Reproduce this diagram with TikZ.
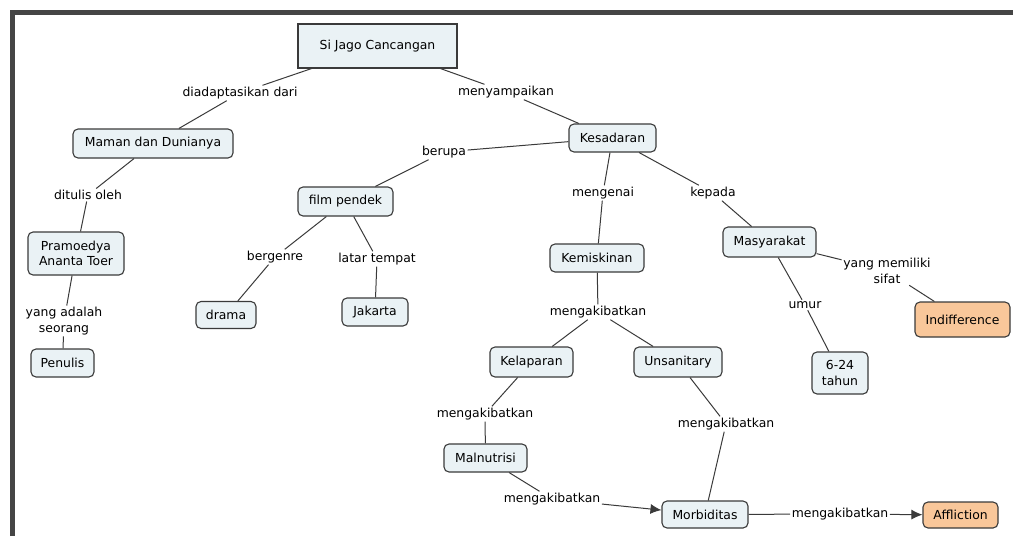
\documentclass[tikz,border=0pt]{standalone}
\usepackage{fontspec}
\setmainfont{DejaVu Sans}
\usetikzlibrary{arrows.meta}
\definecolor{nodefill}{HTML}{EAF2F5}
\definecolor{orangefill}{HTML}{F9C79A}
\definecolor{edgecol}{HTML}{3A3A3A}
\definecolor{framecol}{HTML}{454545}
\begin{document}
\begin{tikzpicture}[x=1pt,y=-1pt,
  txt/.style={font=\fontsize{12.4}{15.5}\selectfont},
  concept/.style={txt, draw=edgecol, line width=1.1pt, fill=nodefill, rounded corners=5pt, inner sep=0pt, align=center},
  hot/.style={concept, fill=orangefill},
  lab/.style={txt, inner sep=1.5pt, align=center},
  link/.style={draw=edgecol, line width=1pt},
  arr/.style={link, -{Latex[length=11pt,width=10pt]}}]
\useasboundingbox (0,0) rectangle (1013,536);
% frame
\draw[framecol, line width=5pt] (12,536) -- (12,12.5) -- (1013,12.5);
% concepts
\node[concept, rounded corners=0pt, minimum width=159pt, minimum height=44pt] (sjc) at (377.5,46) {Si Jago Cancangan};
\node[concept, minimum width=160pt, minimum height=29pt] (maman) at (153,143.5) {Maman dan Dunianya};
\node[concept, minimum width=87pt, minimum height=28pt] (kes) at (612.5,138) {Kesadaran};
\node[concept, minimum width=95pt, minimum height=29pt] (film) at (345.5,201.5) {film pendek};
\node[concept, minimum width=96pt, minimum height=43pt] (pram) at (76,253.5) {Pramoedya\\Ananta Toer};
\node[concept, minimum width=60pt, minimum height=27pt] (drama) at (226,315) {drama};
\node[concept, minimum width=66pt, minimum height=28pt] (jak) at (375,312) {Jakarta};
\node[concept, minimum width=63pt, minimum height=28pt] (pen) at (62.5,363) {Penulis};
\node[concept, minimum width=94pt, minimum height=28pt] (kem) at (597,258) {Kemiskinan};
\node[concept, minimum width=93pt, minimum height=30pt] (masy) at (769.5,242) {Masyarakat};
\node[hot, minimum width=95pt, minimum height=35pt] (indif) at (962.5,319.5) {Indifference};
\node[concept, minimum width=83pt, minimum height=30pt] (kel) at (531.5,362) {Kelaparan};
\node[concept, minimum width=88pt, minimum height=30pt] (uns) at (678,362) {Unsanitary};
\node[concept, minimum width=56pt, minimum height=42pt] (six) at (840,373) {6-24\\tahun};
\node[concept, minimum width=83pt, minimum height=28pt] (mal) at (485.5,458) {Malnutrisi};
\node[concept, minimum width=86pt, minimum height=27pt] (morb) at (705,514.5) {Morbiditas};
\node[hot, minimum width=75pt, minimum height=26pt] (affl) at (960.5,515) {Affliction};
% link labels
\node[lab] (l1) at (240,93) {diadaptasikan dari};
\node[lab] (l2) at (506,92) {menyampaikan};
\node[lab] (l3) at (444,152) {berupa};
\node[lab] (l4) at (88,195) {ditulis oleh};
\node[lab] (l5) at (603,193) {mengenai};
\node[lab] (l6) at (713,193) {kepada};
\node[lab] (l7) at (275,257) {bergenre};
\node[lab] (l8) at (377,259) {latar tempat};
\node[lab] (l9) at (64,321) {yang adalah\\seorang};
\node[lab] (l10) at (887,271) {yang memiliki\\sifat};
\node[lab] (l11) at (805,305) {umur};
\node[lab] (l12) at (598,312) {mengakibatkan};
\node[lab] (l13) at (485,414) {mengakibatkan};
\node[lab] (l14) at (726,424) {mengakibatkan};
\node[lab] (l15) at (552,499) {mengakibatkan};
\node[lab] (l16) at (840,514) {mengakibatkan};
% links
\draw[link] (sjc) -- (l1); \draw[link] (l1) -- (maman);
\draw[link] (sjc) -- (l2); \draw[link] (l2) -- (kes);
\draw[link] (kes) -- (l3); \draw[link] (l3) -- (film);
\draw[link] (maman) -- (l4); \draw[link] (l4) -- (pram);
\draw[link] (kes) -- (l5); \draw[link] (l5) -- (kem);
\draw[link] (kes) -- (l6); \draw[link] (l6) -- (masy);
\draw[link] (film) -- (l7); \draw[link] (l7) -- (drama);
\draw[link] (film) -- (l8); \draw[link] (l8) -- (jak);
\draw[link] (pram) -- (l9); \draw[link] (l9) -- (pen);
\draw[link] (masy) -- (l10); \draw[link] (l10) -- (indif);
\draw[link] (masy) -- (l11); \draw[link] (l11) -- (six);
\draw[link] (kem) -- (l12); \draw[link] (l12) -- (kel); \draw[link] (l12) -- (uns);
\draw[link] (kel) -- (l13); \draw[link] (l13) -- (mal);
\draw[link] (uns) -- (l14); \draw[link] (l14) -- (morb);
\draw[link] (mal) -- (l15); \draw[arr] (l15) -- (morb);
\draw[link] (morb) -- (l16); \draw[arr] (l16) -- (affl);
\end{tikzpicture}
\end{document}
